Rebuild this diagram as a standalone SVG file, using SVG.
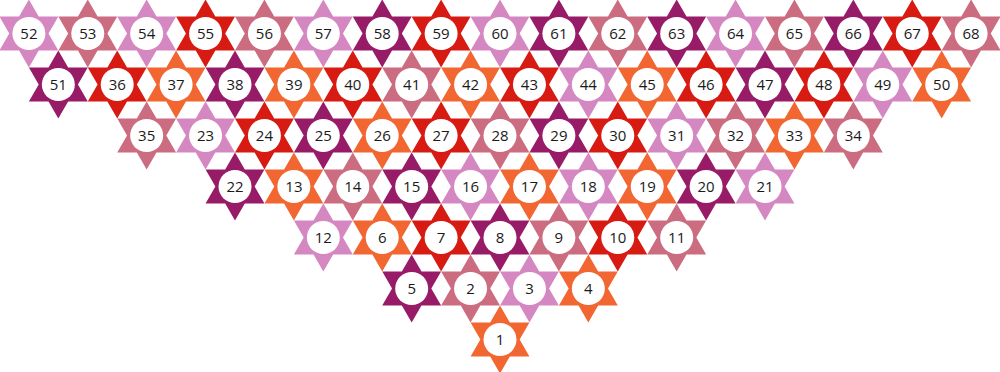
<svg xmlns="http://www.w3.org/2000/svg" xmlns:xlink="http://www.w3.org/1999/xlink" width="1000" height="372" viewBox="0 0 1000 372">
<style>
.a{fill:#d587c1}.b{fill:#cb6c80}.c{fill:#971b67}.d{fill:#d71a12}.e{fill:#f26632}
circle{fill:#ffffff}
text{fill:#1a1a1a;font-family:"Open Sans","Liberation Sans",sans-serif;font-size:15px;text-anchor:middle}
</style>
<defs>
<polygon id="hex" points="0,-34 9.815,-17 29.445,-17 19.63,0 29.445,17 9.815,17 0,34 -9.815,17 -29.445,17 -19.63,0 -29.445,-17 -9.815,-17"/>
</defs>
<rect width="1000" height="372" fill="#ffffff"/>
<g id="connectors"/>
<g id="nodes">
<!-- row 7 -->
<g id="n52" class="a" transform="translate(28.88,33.5)"><use href="#hex"/><circle r="16.5"/><text y="5.5">52</text></g>
<g id="n53" class="b" transform="translate(87.77,33.5)"><use href="#hex"/><circle r="16.5"/><text y="5.5">53</text></g>
<g id="n54" class="a" transform="translate(146.66,33.5)"><use href="#hex"/><circle r="16.5"/><text y="5.5">54</text></g>
<g id="n55" class="d" transform="translate(205.55,33.5)"><use href="#hex"/><circle r="16.5"/><text y="5.5">55</text></g>
<g id="n56" class="b" transform="translate(264.44,33.5)"><use href="#hex"/><circle r="16.5"/><text y="5.5">56</text></g>
<g id="n57" class="a" transform="translate(323.33,33.5)"><use href="#hex"/><circle r="16.5"/><text y="5.5">57</text></g>
<g id="n58" class="c" transform="translate(382.22,33.5)"><use href="#hex"/><circle r="16.5"/><text y="5.5">58</text></g>
<g id="n59" class="d" transform="translate(441.11,33.5)"><use href="#hex"/><circle r="16.5"/><text y="5.5">59</text></g>
<g id="n60" class="a" transform="translate(500,33.5)"><use href="#hex"/><circle r="16.5"/><text y="5.5">60</text></g>
<g id="n61" class="c" transform="translate(558.89,33.5)"><use href="#hex"/><circle r="16.5"/><text y="5.5">61</text></g>
<g id="n62" class="b" transform="translate(617.78,33.5)"><use href="#hex"/><circle r="16.5"/><text y="5.5">62</text></g>
<g id="n63" class="c" transform="translate(676.67,33.5)"><use href="#hex"/><circle r="16.5"/><text y="5.5">63</text></g>
<g id="n64" class="a" transform="translate(735.56,33.5)"><use href="#hex"/><circle r="16.5"/><text y="5.5">64</text></g>
<g id="n65" class="b" transform="translate(794.45,33.5)"><use href="#hex"/><circle r="16.5"/><text y="5.5">65</text></g>
<g id="n66" class="c" transform="translate(853.34,33.5)"><use href="#hex"/><circle r="16.5"/><text y="5.5">66</text></g>
<g id="n67" class="d" transform="translate(912.23,33.5)"><use href="#hex"/><circle r="16.5"/><text y="5.5">67</text></g>
<g id="n68" class="b" transform="translate(971.12,33.5)"><use href="#hex"/><circle r="16.5"/><text y="5.5">68</text></g>
<!-- row 6 -->
<g id="n51" class="c" transform="translate(58.33,84.5)"><use href="#hex"/><circle r="16.5"/><text y="5.5">51</text></g>
<g id="n36" class="d" transform="translate(117.22,84.5)"><use href="#hex"/><circle r="16.5"/><text y="5.5">36</text></g>
<g id="n37" class="e" transform="translate(176.11,84.5)"><use href="#hex"/><circle r="16.5"/><text y="5.5">37</text></g>
<g id="n38" class="c" transform="translate(235,84.5)"><use href="#hex"/><circle r="16.5"/><text y="5.5">38</text></g>
<g id="n39" class="e" transform="translate(293.89,84.5)"><use href="#hex"/><circle r="16.5"/><text y="5.5">39</text></g>
<g id="n40" class="d" transform="translate(352.78,84.5)"><use href="#hex"/><circle r="16.5"/><text y="5.5">40</text></g>
<g id="n41" class="b" transform="translate(411.67,84.5)"><use href="#hex"/><circle r="16.5"/><text y="5.5">41</text></g>
<g id="n42" class="e" transform="translate(470.56,84.5)"><use href="#hex"/><circle r="16.5"/><text y="5.5">42</text></g>
<g id="n43" class="d" transform="translate(529.45,84.5)"><use href="#hex"/><circle r="16.5"/><text y="5.5">43</text></g>
<g id="n44" class="a" transform="translate(588.34,84.5)"><use href="#hex"/><circle r="16.5"/><text y="5.5">44</text></g>
<g id="n45" class="e" transform="translate(647.23,84.5)"><use href="#hex"/><circle r="16.5"/><text y="5.5">45</text></g>
<g id="n46" class="d" transform="translate(706.12,84.5)"><use href="#hex"/><circle r="16.5"/><text y="5.5">46</text></g>
<g id="n47" class="c" transform="translate(765.01,84.5)"><use href="#hex"/><circle r="16.5"/><text y="5.5">47</text></g>
<g id="n48" class="d" transform="translate(823.9,84.5)"><use href="#hex"/><circle r="16.5"/><text y="5.5">48</text></g>
<g id="n49" class="a" transform="translate(882.79,84.5)"><use href="#hex"/><circle r="16.5"/><text y="5.5">49</text></g>
<g id="n50" class="e" transform="translate(941.68,84.5)"><use href="#hex"/><circle r="16.5"/><text y="5.5">50</text></g>
<!-- row 5 -->
<g id="n35" class="b" transform="translate(146.66,135.5)"><use href="#hex"/><circle r="16.5"/><text y="5.5">35</text></g>
<g id="n23" class="a" transform="translate(205.55,135.5)"><use href="#hex"/><circle r="16.5"/><text y="5.5">23</text></g>
<g id="n24" class="d" transform="translate(264.44,135.5)"><use href="#hex"/><circle r="16.5"/><text y="5.5">24</text></g>
<g id="n25" class="c" transform="translate(323.33,135.5)"><use href="#hex"/><circle r="16.5"/><text y="5.5">25</text></g>
<g id="n26" class="e" transform="translate(382.22,135.5)"><use href="#hex"/><circle r="16.5"/><text y="5.5">26</text></g>
<g id="n27" class="d" transform="translate(441.11,135.5)"><use href="#hex"/><circle r="16.5"/><text y="5.5">27</text></g>
<g id="n28" class="b" transform="translate(500,135.5)"><use href="#hex"/><circle r="16.5"/><text y="5.5">28</text></g>
<g id="n29" class="c" transform="translate(558.89,135.5)"><use href="#hex"/><circle r="16.5"/><text y="5.5">29</text></g>
<g id="n30" class="d" transform="translate(617.78,135.5)"><use href="#hex"/><circle r="16.5"/><text y="5.5">30</text></g>
<g id="n31" class="a" transform="translate(676.67,135.5)"><use href="#hex"/><circle r="16.5"/><text y="5.5">31</text></g>
<g id="n32" class="b" transform="translate(735.56,135.5)"><use href="#hex"/><circle r="16.5"/><text y="5.5">32</text></g>
<g id="n33" class="e" transform="translate(794.45,135.5)"><use href="#hex"/><circle r="16.5"/><text y="5.5">33</text></g>
<g id="n34" class="b" transform="translate(853.34,135.5)"><use href="#hex"/><circle r="16.5"/><text y="5.5">34</text></g>
<!-- row 4 -->
<g id="n22" class="c" transform="translate(235,186.5)"><use href="#hex"/><circle r="16.5"/><text y="5.5">22</text></g>
<g id="n13" class="e" transform="translate(293.89,186.5)"><use href="#hex"/><circle r="16.5"/><text y="5.5">13</text></g>
<g id="n14" class="b" transform="translate(352.78,186.5)"><use href="#hex"/><circle r="16.5"/><text y="5.5">14</text></g>
<g id="n15" class="c" transform="translate(411.67,186.5)"><use href="#hex"/><circle r="16.5"/><text y="5.5">15</text></g>
<g id="n16" class="a" transform="translate(470.56,186.5)"><use href="#hex"/><circle r="16.5"/><text y="5.5">16</text></g>
<g id="n17" class="e" transform="translate(529.45,186.5)"><use href="#hex"/><circle r="16.5"/><text y="5.5">17</text></g>
<g id="n18" class="a" transform="translate(588.34,186.5)"><use href="#hex"/><circle r="16.5"/><text y="5.5">18</text></g>
<g id="n19" class="e" transform="translate(647.23,186.5)"><use href="#hex"/><circle r="16.5"/><text y="5.5">19</text></g>
<g id="n20" class="c" transform="translate(706.12,186.5)"><use href="#hex"/><circle r="16.5"/><text y="5.5">20</text></g>
<g id="n21" class="a" transform="translate(765.01,186.5)"><use href="#hex"/><circle r="16.5"/><text y="5.5">21</text></g>
<!-- row 3 -->
<g id="n12" class="a" transform="translate(323.33,237.5)"><use href="#hex"/><circle r="16.5"/><text y="5.5">12</text></g>
<g id="n6" class="e" transform="translate(382.22,237.5)"><use href="#hex"/><circle r="16.5"/><text y="5.5">6</text></g>
<g id="n7" class="d" transform="translate(441.11,237.5)"><use href="#hex"/><circle r="16.5"/><text y="5.5">7</text></g>
<g id="n8" class="c" transform="translate(500,237.5)"><use href="#hex"/><circle r="16.5"/><text y="5.5">8</text></g>
<g id="n9" class="b" transform="translate(558.89,237.5)"><use href="#hex"/><circle r="16.5"/><text y="5.5">9</text></g>
<g id="n10" class="d" transform="translate(617.78,237.5)"><use href="#hex"/><circle r="16.5"/><text y="5.5">10</text></g>
<g id="n11" class="b" transform="translate(676.67,237.5)"><use href="#hex"/><circle r="16.5"/><text y="5.5">11</text></g>
<!-- row 2 -->
<g id="n5" class="c" transform="translate(411.67,288.5)"><use href="#hex"/><circle r="16.5"/><text y="5.5">5</text></g>
<g id="n2" class="b" transform="translate(470.56,288.5)"><use href="#hex"/><circle r="16.5"/><text y="5.5">2</text></g>
<g id="n3" class="a" transform="translate(529.45,288.5)"><use href="#hex"/><circle r="16.5"/><text y="5.5">3</text></g>
<g id="n4" class="e" transform="translate(588.34,288.5)"><use href="#hex"/><circle r="16.5"/><text y="5.5">4</text></g>
<!-- row 1 -->
<g id="n1" class="e" transform="translate(500,339.5)"><use href="#hex"/><circle r="16.5"/><text y="5.5">1</text></g>
</g>
</svg>
